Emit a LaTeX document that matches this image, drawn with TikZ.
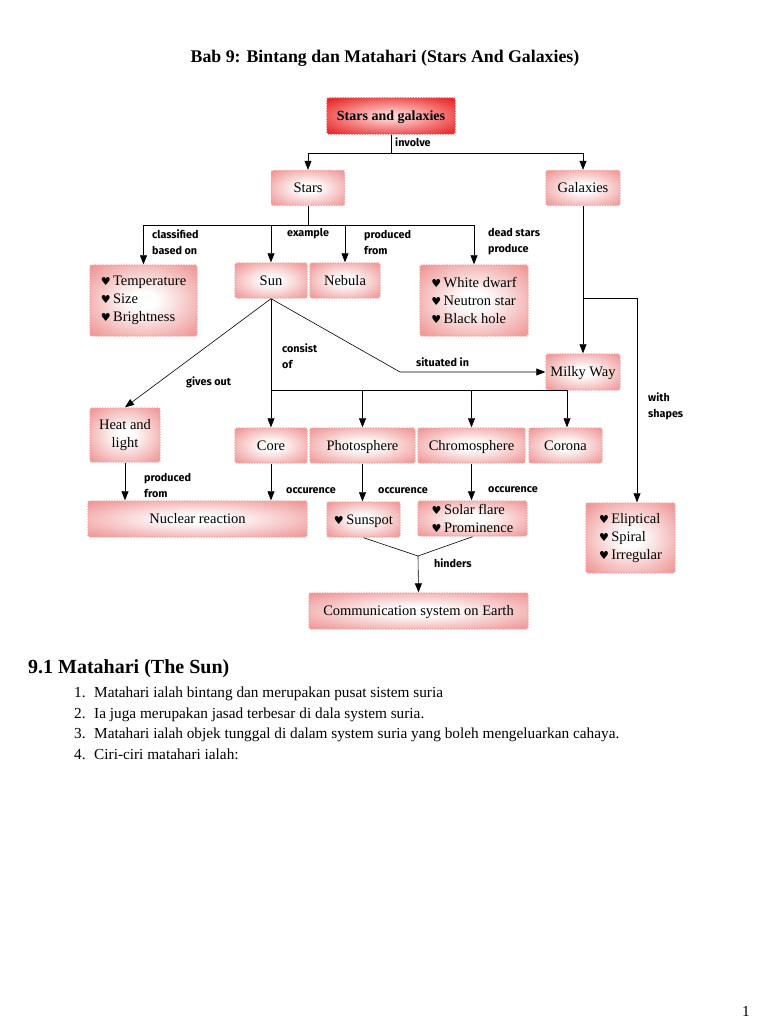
\documentclass[tikz,border=0pt]{standalone}
\usepackage{fontspec}
\setmainfont{Liberation Serif}
\newfontfamily\labfont{Fira Sans}
\newfontfamily\djfont{DejaVu Sans}
\usetikzlibrary{arrows.meta}
\definecolor{boxpink}{RGB}{231,98,98}
\definecolor{boxedge}{RGB}{243,165,165}
\definecolor{topred}{RGB}{226,0,0}
\definecolor{topedge}{RGB}{238,70,70}
\pgfdeclareradialshading{pinkshade}{\pgfpoint{0bp}{0bp}}{color(0bp)=(white); color(6bp)=(white); color(48bp)=(boxpink); color(72bp)=(boxpink)}
\pgfdeclareradialshading{redshade}{\pgfpoint{0bp}{0bp}}{color(0bp)=(white!82!red); color(4bp)=(white!82!red); color(40bp)=(topred); color(72bp)=(topred)}
\newcommand{\hrt}{{\djfont\fontsize{11}{11}\selectfont ♥}\,}
\tikzset{
  bx/.style={rectangle, rounded corners=2pt, shading=pinkshade, draw=boxedge,
    line width=1.4pt, dash pattern=on 1.3pt off 1.3pt, inner sep=0pt,
    font=\fontsize{14.5}{18}\selectfont, align=center},
  bxs/.style={bx, text height=11pt, text depth=2pt},
  lbl/.style={anchor=west, inner sep=0pt, font=\labfont\bfseries\fontsize{10.8}{16}\selectfont, align=left},
  arr/.style={-{Triangle[length=9pt,width=7pt]}, line width=0.6pt},
  ln/.style={line width=0.6pt}
}
\begin{document}
\begin{tikzpicture}[x=1pt,y=-1pt]
\useasboundingbox (0,0) rectangle (768,1024);
% title
\node[font=\bfseries\fontsize{17.8}{20}\selectfont] (title) at (385,58) {Bab 9: Bintang dan Matahari (Stars And Galaxies)};
% boxes
\node[bxs, shading=redshade, draw=topedge, minimum width=128pt, minimum height=36pt, font=\bfseries\fontsize{14}{18}\selectfont] (sg) at (391,116) {Stars and galaxies};
\node[bxs, minimum width=73pt, minimum height=35pt] (stars) at (308,188) {Stars};
\node[bxs, minimum width=74pt, minimum height=35pt] (gal) at (583,188) {Galaxies};
\node[bx, minimum width=107pt, minimum height=71pt, align=left] (temp) at (143.5,300.5) {\hrt Temperature\\\hrt Size\\\hrt Brightness};
\node[bxs, minimum width=72pt, minimum height=35pt] (sun) at (271,280.5) {Sun};
\node[bxs, minimum width=70pt, minimum height=35pt] (neb) at (345,280.5) {Nebula};
\node[bx, minimum width=108pt, minimum height=71pt, align=left] (dead) at (474,300.5) {\hrt White dwarf\\\hrt Neutron star\\\hrt Black hole};
\node[bxs, minimum width=74pt, minimum height=36pt] (milky) at (583,372) {Milky Way};
\node[bx, minimum width=70pt, minimum height=54pt] (heat) at (125,435) {Heat and\\light};
\node[bxs, minimum width=72pt, minimum height=35pt] (core) at (271,445.5) {Core};
\node[bxs, minimum width=105pt, minimum height=35pt] (photo) at (362.5,445.5) {Photosphere};
\node[bxs, minimum width=107pt, minimum height=35pt] (chromo) at (471.5,445.5) {Chromosphere};
\node[bxs, minimum width=73pt, minimum height=35pt] (corona) at (565.5,445.5) {Corona};
\node[bxs, minimum width=219pt, minimum height=36pt] (nuc) at (197.5,519) {Nuclear reaction};
\node[bxs, minimum width=73pt, minimum height=35pt] (spot) at (363.5,519.5) {\hrt Sunspot};
\node[bx, minimum width=109pt, minimum height=35pt, align=left, font=\fontsize{14.5}{17.5}\selectfont] (solar) at (472.5,518.5) {\hrt Solar flare\\\hrt Prominence};
\node[bxs, minimum width=219pt, minimum height=36pt] (comm) at (418.5,611) {Communication system on Earth};
\node[bx, minimum width=89pt, minimum height=70pt, align=left] (shapes) at (630.5,538) {\hrt Eliptical\\\hrt Spiral\\\hrt Irregular};
% coordinates
\coordinate (j1) at (391,153);
\coordinate (j2) at (308,225);
\coordinate (j3) at (271,390);
\coordinate (j4) at (567,390);
\coordinate (j5) at (400,372);
\coordinate (j6) at (583,298);
\coordinate (j7) at (637,298);
\coordinate (j8) at (418,556);
% connectors
\draw[ln] (sg.south) -- (j1);
\draw[arr] (j1) -| (stars.north);
\draw[arr] (j1) -| (gal.north);
\draw[ln] (stars.south) -- (j2);
\draw[ln] (temp.north |- j2) -- (dead.north |- j2);
\draw[arr] (temp.north |- j2) -- (temp.north);
\draw[arr] (sun.north |- j2) -- (sun.north);
\draw[arr] (neb.north |- j2) -- (neb.north);
\draw[arr] (dead.north |- j2) -- (dead.north);
\draw[arr] (sun.south) -- (heat.north);
\draw[ln] (sun.south) -- (j3);
\draw[ln] (j3) -- (j4);
\draw[arr] (j3) -- (core.north);
\draw[arr] (photo.north |- j3) -- (photo.north);
\draw[arr] (chromo.north |- j3) -- (chromo.north);
\draw[arr] (j4) -- (j4 |- corona.north);
\draw[arr] (sun.south) -- (j5) -- (milky.west);
\draw[arr] (gal.south) -- (milky.north);
\draw[ln] (j6) -- (j7);
\draw[arr] (j7) -- (j7 |- shapes.north);
\draw[arr] (heat.south) -- (heat.south |- nuc.north);
\draw[arr] (core.south) -- (core.south |- nuc.north);
\draw[arr] (photo.south) -- (photo.south |- spot.north);
\draw[arr] (chromo.south) -- (chromo.south |- solar.north);
\draw[ln] (spot.south) -- (j8);
\draw[ln] (solar.south) -- (j8);
\draw[arr] (j8) -- (comm.north);
% labels
\node[lbl] (l1) at (395,142) {involve};
\node[lbl] (l2) at (152,242) {classified\\based on};
\node[lbl] (l3) at (287,234) {example};
\node[lbl] (l4) at (364,242) {produced\\from};
\node[lbl] (l5) at (488,242) {dead stars\\produce};
\node[lbl] (l6) at (282,356) {consist\\of};
\node[lbl] (l7) at (416,362) {situated in};
\node[lbl] (l8) at (186,382) {gives out};
\node[lbl] (l9) at (648,406) {with\\shapes};
\node[lbl] (l10) at (144,485) {produced\\from};
\node[lbl] (l11) at (286,491) {occurence};
\node[lbl] (l12) at (378,491) {occurence};
\node[lbl] (l13) at (488,490) {occurence};
\node[lbl] (l14) at (434,563) {hinders};
% text
\node[anchor=west, inner sep=0pt, font=\bfseries\fontsize{20}{22}\selectfont] (sec) at (28,669) {9.1 Matahari (The Sun)};
\begin{scope}[every node/.style={anchor=base west, inner sep=0pt, font=\fontsize{15.3}{16}\selectfont}]
\node (n1) at (74,697) {1.};
\node (t1) at (94,697) {Matahari ialah bintang dan merupakan pusat sistem suria};
\node (n2) at (74,718) {2.};
\node (t2) at (94,718) {Ia juga merupakan jasad terbesar di dala system suria.};
\node (n3) at (74,738) {3.};
\node (t3) at (94,738) {Matahari ialah objek tunggal di dalam system suria yang boleh mengeluarkan cahaya.};
\node (n4) at (74,759) {4.};
\node (t4) at (94,759) {Ciri-ciri matahari ialah:};
\node (pg) at (742,1016) {1};
\end{scope}
\end{tikzpicture}
\end{document}
